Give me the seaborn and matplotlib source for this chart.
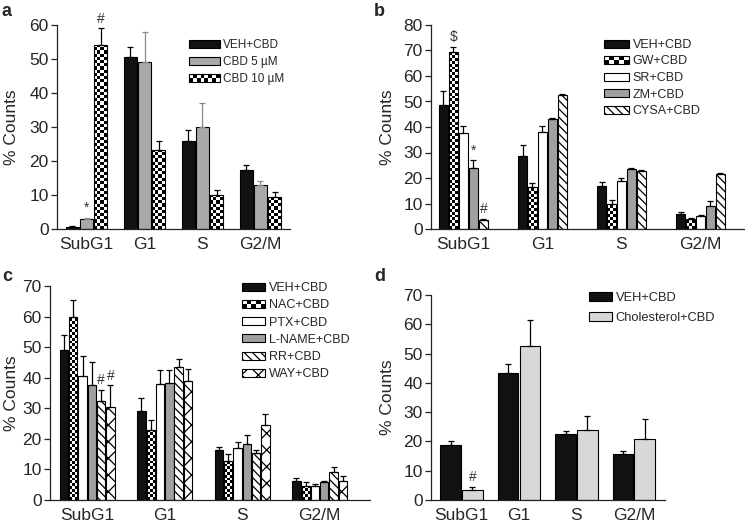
import numpy as np
import pandas as pd
import matplotlib
matplotlib.use("Agg")
import matplotlib.pyplot as plt
import seaborn as sns
from matplotlib.patches import Rectangle
from matplotlib.legend_handler import HandlerBase

# --- data ---
PHASES = ["SubG1", "G1", "S", "G2/M"]

A_GROUPS = ["VEH+CBD", "CBD 5 µM", "CBD 10 µM"]
A_MEAN = [[0.7, 50.5, 26.0, 17.5],
          [3.0, 49.0, 30.0, 13.0],
          [54.0, 23.3, 10.0, 9.5]]
A_ERR = [[0.2, 3.0, 3.0, 1.2],
         [0.3, 8.8, 7.0, 1.0],
         [5.0, 2.5, 1.5, 1.3]]
A_MARKS = [("SubG1", 1, "*"), ("SubG1", 2, "#")]

B_GROUPS = ["VEH+CBD", "GW+CBD", "SR+CBD", "ZM+CBD", "CYSA+CBD"]
B_MEAN = [[48.5, 28.5, 17.0, 6.0],
          [69.5, 16.5, 10.0, 4.0],
          [37.5, 38.0, 19.0, 5.2],
          [24.0, 43.0, 23.5, 9.0],
          [3.5, 52.5, 22.8, 21.5]]
B_ERR = [[5.5, 4.5, 1.3, 0.5],
         [2.0, 1.5, 1.2, 0.5],
         [3.0, 2.3, 1.0, 0.4],
         [3.0, 0.7, 0.5, 1.8],
         [0.5, 0.4, 0.3, 0.3]]
B_MARKS = [("SubG1", 1, "\\$"), ("SubG1", 3, "*"), ("SubG1", 4, "#")]

C_GROUPS = ["VEH+CBD", "NAC+CBD", "PTX+CBD", "L-NAME+CBD", "RR+CBD", "WAY+CBD"]
C_MEAN = [[49.0, 29.0, 16.3, 6.3],
          [60.0, 23.0, 12.7, 4.7],
          [40.5, 38.0, 17.0, 4.7],
          [37.5, 38.3, 18.3, 5.8],
          [32.5, 43.5, 15.5, 9.3],
          [30.5, 39.0, 24.5, 6.3]]
C_ERR = [[5.0, 4.5, 1.2, 0.8],
         [5.5, 3.3, 2.3, 1.3],
         [6.5, 4.5, 2.0, 0.5],
         [7.7, 4.3, 3.0, 0.4],
         [3.5, 2.5, 1.0, 1.5],
         [7.0, 4.0, 3.5, 1.5]]
C_MARKS = [("SubG1", 4, "#"), ("SubG1", 5, "#")]

D_GROUPS = ["VEH+CBD", "Cholesterol+CBD"]
D_MEAN = [[18.8, 43.3, 22.5, 15.8],
          [3.3, 52.5, 24.0, 21.0]]
D_ERR = [[1.3, 3.0, 1.0, 1.0],
         [1.2, 9.0, 4.7, 6.8]]
D_MARKS = [("SubG1", 1, "#")]

# --- styles per group: facecolor, hatch, checker columns, errorbar colour ---
STYLE = {
    "VEH+CBD": ("#111111", None, 0, "black"),
    "CBD 5 µM": ("#a9a9a9", None, 0, "#8a8a8a"),
    "CBD 10 µM": ("white", None, 4, "black"),
    "GW+CBD": ("white", None, 3, "black"),
    "SR+CBD": ("white", None, 0, "black"),
    "ZM+CBD": ("#a0a0a0", None, 0, "black"),
    "CYSA+CBD": ("white", "\\\\\\\\", 0, "black"),
    "NAC+CBD": ("white", None, 3, "black"),
    "PTX+CBD": ("white", None, 0, "black"),
    "L-NAME+CBD": ("#a0a0a0", None, 0, "black"),
    "RR+CBD": ("white", "\\\\\\\\", 0, "black"),
    "WAY+CBD": ("white", "xx", 0, "black"),
    "Cholesterol+CBD": ("#d8d8d8", None, 0, "black"),
}

W, H = 745, 525

sns.set_style("ticks")
plt.rcParams["font.family"] = ["Liberation Sans", "DejaVu Sans"]
plt.rcParams["hatch.linewidth"] = 0.9


class CheckerHandler(HandlerBase):
    def __init__(self, ncols):
        super().__init__()
        self.ncols = ncols

    def create_artists(self, legend, orig_handle, xdescent, ydescent,
                       width, height, fontsize, trans):
        arts = [Rectangle((-xdescent, -ydescent), width, height, facecolor="white",
                          edgecolor="black", lw=0.8, transform=trans)]
        w = width / self.ncols
        h = height / 2
        for i in range(2):
            for j in range(self.ncols):
                if (i + j) % 2 == 0:
                    arts.append(Rectangle((-xdescent + j * w, -ydescent + i * h), w, h,
                                          facecolor="black", lw=0, transform=trans))
        return arts


def panel(box, groups, means, errs, marks, ymax, xlim, width, gap,
          leg_xy, leg_fs, leg_hl, leg_ls, label_x):
    left, right, top, bottom = box
    ax = fig.add_axes([left / W, 1 - bottom / H, (right - left) / W, (bottom - top) / H])
    df = pd.DataFrame({
        "phase": [p for g in groups for p in PHASES],
        "group": [g for g in groups for p in PHASES],
        "value": [v for row in means for v in row],
    })
    sns.barplot(data=df, x="phase", y="value", hue="group", order=PHASES,
                hue_order=groups, palette=[STYLE[g][0] for g in groups],
                saturation=1, width=width, gap=gap, errorbar=None,
                edgecolor="black", linewidth=0.8, legend=False, ax=ax)
    ax.set_xlim(*xlim)
    ax.set_ylim(0, ymax)
    px_x = (right - left) / (xlim[1] - xlim[0])
    px_y = (bottom - top) / ymax

    handles, hmap = [], {}
    for gi, (cont, g) in enumerate(zip(ax.containers, groups)):
        fc, hatch, ncols, ec = STYLE[g]
        for p in cont:
            if hatch:
                p.set_hatch(hatch)
            if ncols:
                w = p.get_width()
                dy = (w * px_x / ncols) / px_y
                nrows = int(np.ceil(p.get_height() / dy))
                arr = np.indices((nrows, ncols)).sum(0) % 2
                im = ax.imshow(arr, extent=(p.get_x(), p.get_x() + w, 0, nrows * dy),
                               origin="lower", cmap="gray", vmin=0, vmax=1,
                               aspect="auto", interpolation="nearest", zorder=1.5)
                im.set_clip_path(p)
                p.set_facecolor("none")
                p.set_zorder(1.6)
        xs = [p.get_x() + p.get_width() / 2 for p in cont]
        ax.errorbar(xs, means[gi], yerr=[np.zeros(len(xs)), errs[gi]], fmt="none",
                    ecolor=ec, elinewidth=0.9, capsize=2.5, capthick=0.9, zorder=3)
        h = Rectangle((0, 0), 1, 1, facecolor=fc, edgecolor="black", lw=0.8,
                      hatch=hatch)
        handles.append(h)
        if ncols:
            hmap[h] = CheckerHandler(8 if ncols == 4 else 5)

    for phase, gi, sym in marks:
        idx = PHASES.index(phase)
        p = ax.containers[gi][idx]
        ax.annotate(sym, (p.get_x() + p.get_width() / 2, means[gi][idx] + errs[gi][idx]),
                    xytext=(0, 2), textcoords="offset points", ha="center",
                    va="bottom", fontsize=10, color="#333333")

    ax.set_xlim(*xlim)
    ax.set_ylim(0, ymax)
    ax.set_yticks(np.arange(0, ymax + 1, 10))
    ax.set_xlabel("")
    ax.set_ylabel("% Counts", fontsize=12.5)
    ax.yaxis.set_label_coords((label_x - left) / (right - left), 0.5)
    ax.tick_params(axis="y", labelsize=12.5, length=4, width=0.9, pad=2)
    ax.tick_params(axis="x", labelsize=12.5, length=0, pad=6)
    sns.despine(ax=ax)
    for s in ("left", "bottom"):
        ax.spines[s].set_linewidth(0.9)
        ax.spines[s].set_color("#222222")

    ax.legend(handles, groups, handler_map=hmap, loc="upper left",
              bbox_to_anchor=(leg_xy[0] / W, 1 - leg_xy[1] / H),
              bbox_transform=fig.transFigure, frameon=False, fontsize=leg_fs,
              handlelength=leg_hl, handleheight=0.6, handletextpad=0.3,
              labelspacing=leg_ls, borderpad=0, borderaxespad=0)
    return ax


fig = plt.figure(figsize=(W / 100, H / 100), dpi=100)

panel((57, 290, 25, 229), A_GROUPS, A_MEAN, A_ERR, A_MARKS, 60, (-0.51, 3.51), 0.74, 0.11,
      (189, 39), 8.5, 2.6, 0.42, 19)
panel((431, 744, 25, 229), B_GROUPS, B_MEAN, B_ERR, B_MARKS, 80, (-0.41, 3.55), 0.63, 0.13,
      (604, 39), 9, 2.0, 0.36, 395)
panel((50, 370, 286, 500), C_GROUPS, C_MEAN, C_ERR, C_MARKS, 70, (-0.48, 3.65), 0.72, 0.1,
      (242, 282), 9, 1.85, 0.42, 19)
panel((431, 665, 295, 500), D_GROUPS, D_MEAN, D_ERR, D_MARKS, 70, (-0.53, 3.54), 0.76, 0.05,
      (589, 292), 9.3, 1.75, 0.62, 395)

for letter, x, y in [("a", 2, 3), ("b", 374, 3), ("c", 2, 268), ("d", 374, 268)]:
    fig.text(x / W, 1 - y / H, letter, fontsize=13, fontweight="bold", va="top", ha="left")

fig.savefig("out.png", dpi=100)
